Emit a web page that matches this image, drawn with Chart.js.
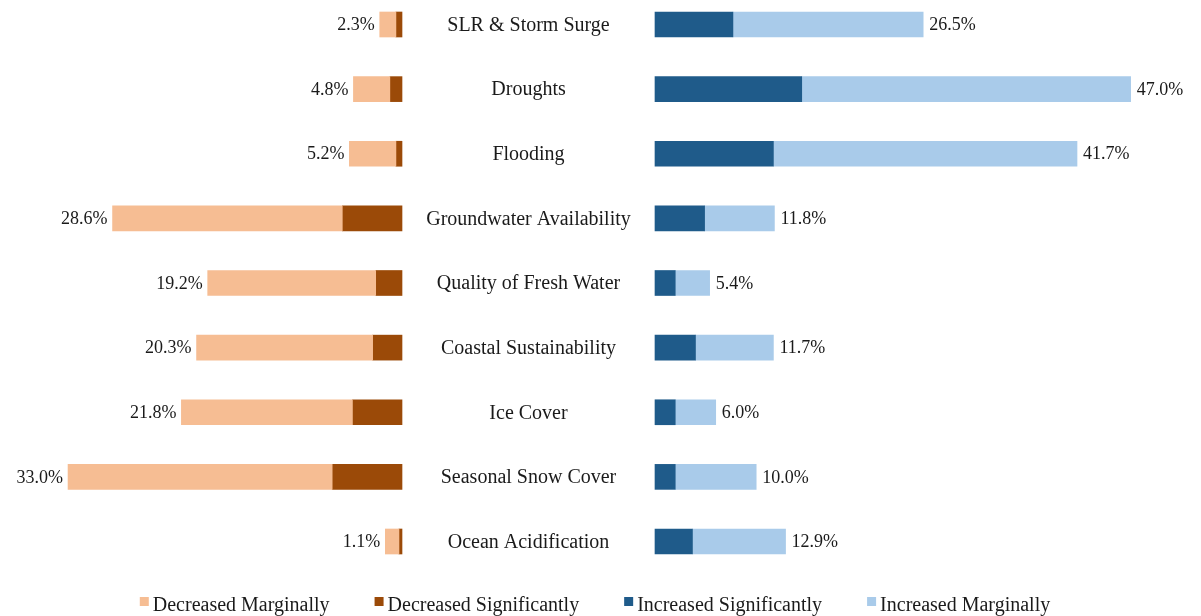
<!DOCTYPE html>
<html>
<head>
<meta charset="utf-8">
<script src="https://cdn.jsdelivr.net/npm/chart.js@4.4.1/dist/chart.umd.min.js"></script>
<style>
  html, body { margin: 0; padding: 0; background: #ffffff; }
  #wrap { width: 1201px; height: 616px; position: relative; }
</style>
</head>
<body>
<div id="wrap"><canvas id="c" width="1201" height="616"></canvas></div>
<script>
// ---- data ----
const categories = ['SLR & Storm Surge', 'Droughts', 'Flooding', 'Groundwater Availability',
  'Quality of Fresh Water', 'Coastal Sustainability', 'Ice Cover', 'Seasonal Snow Cover', 'Ocean Acidification'];
const decreasedMarginally   = [1.6, 3.6, 4.6, 22.7, 16.6, 17.4, 16.9, 26.1, 1.35];
const decreasedSignificantly = [0.6, 1.2, 0.6, 5.9, 2.6, 2.9, 4.9, 6.9, 0.3];
const increasedSignificantly = [7.7, 14.5, 11.7, 4.9, 2.0, 4.0, 2.0, 2.0, 3.7];
const increasedMarginally   = [18.8, 32.5, 30.0, 6.9, 3.4, 7.7, 4.0, 8.0, 9.2];
const decreasedTotalLabels = ['2.3%', '4.8%', '5.2%', '28.6%', '19.2%', '20.3%', '21.8%', '33.0%', '1.1%'];
const increasedTotalLabels = ['26.5%', '47.0%', '41.7%', '11.8%', '5.4%', '11.7%', '6.0%', '10.0%', '12.9%'];

// ---- layout constants ----
const GAP = 12.5;            // half-width of the centre label column, in axis units
const PX_PER_UNIT = 10.12;
const CENTER_PX = 528.5;
const W = 1201;
const FONT = '"Liberation Serif", "Times New Roman", serif';
const TEXT = '#1a1a1a';

const colors = {
  dm: '#f6bd93',
  ds: '#9b4a08',
  is: '#1f5b8a',
  im: '#a9cbea'
};

// floating bar ranges built from the data
const dmData = decreasedMarginally.map((m, i) => [-(GAP + m + decreasedSignificantly[i]), -(GAP + decreasedSignificantly[i])]);
const dsData = decreasedSignificantly.map(s => [-(GAP + s), -GAP]);
const isData = increasedSignificantly.map(s => [GAP, GAP + s]);
const imData = increasedMarginally.map((m, i) => [GAP + increasedSignificantly[i], GAP + increasedSignificantly[i] + m]);

const labelsPlugin = {
  id: 'divLabels',
  afterDatasetsDraw(chart) {
    const ctx = chart.ctx;
    const xs = chart.scales.x;
    const cx = xs.getPixelForValue(0);
    const leftMeta = chart.getDatasetMeta(0);
    const rightMeta = chart.getDatasetMeta(3);
    ctx.save();
    ctx.fillStyle = TEXT;
    ctx.textBaseline = 'middle';
    categories.forEach((cat, i) => {
      const le = leftMeta.data[i];
      const re = rightMeta.data[i];
      const y = le.y;
      // category
      ctx.font = '20px ' + FONT;
      ctx.textAlign = 'center';
      ctx.fillText(cat, cx, y + 1);
      // values
      ctx.font = '18px ' + FONT;
      ctx.textAlign = 'right';
      ctx.fillText(decreasedTotalLabels[i], Math.min(le.x, le.base) - 5, y + 1);
      ctx.textAlign = 'left';
      ctx.fillText(increasedTotalLabels[i], Math.max(re.x, re.base) + 6, y + 1);
    });
    ctx.restore();
  }
};

const legendPlugin = {
  id: 'customLegend',
  afterDraw(chart) {
    const ctx = chart.ctx;
    ctx.save();
    ctx.font = '20px ' + FONT;
    ctx.textBaseline = 'alphabetic';
    const box = 9, boxGap = 4, itemGap = 45;
    const items = chart.data.datasets.map(d => ({ text: d.label, color: d.backgroundColor, w: ctx.measureText(d.label).width }));
    const total = items.reduce((a, it) => a + box + boxGap + it.w, 0) + itemGap * (items.length - 1);
    let x = 595 - total / 2;
    const baseY = 611;
    items.forEach(it => {
      ctx.fillStyle = it.color;
      ctx.fillRect(x, 597, box, box);
      ctx.fillStyle = TEXT;
      ctx.textAlign = 'left';
      ctx.fillText(it.text, x + box + boxGap, baseY);
      x += box + boxGap + it.w + itemGap;
    });
    ctx.restore();
  }
};

const common = { barThickness: 25, grouped: false, borderWidth: 0, borderSkipped: false, clip: false };

new Chart(document.getElementById('c'), {
  type: 'bar',
  data: {
    labels: categories,
    datasets: [
      Object.assign({ label: 'Decreased Marginally', data: dmData, backgroundColor: colors.dm }, common),
      Object.assign({ label: 'Decreased Significantly', data: dsData, backgroundColor: colors.ds }, common),
      Object.assign({ label: 'Increased Significantly', data: isData, backgroundColor: colors.is }, common),
      Object.assign({ label: 'Increased Marginally', data: imData, backgroundColor: colors.im }, common)
    ]
  },
  options: {
    indexAxis: 'y',
    responsive: false,
    animation: false,
    layout: { padding: { top: 24.5, bottom: 616 - 541.5, left: 0, right: 0 } },
    scales: {
      x: { type: 'linear', display: false, min: -CENTER_PX / PX_PER_UNIT, max: (W - CENTER_PX) / PX_PER_UNIT },
      y: { type: 'category', display: false, offset: false }
    },
    plugins: { legend: { display: false }, tooltip: { enabled: false } }
  },
  plugins: [labelsPlugin, legendPlugin]
});
</script>
</body>
</html>
